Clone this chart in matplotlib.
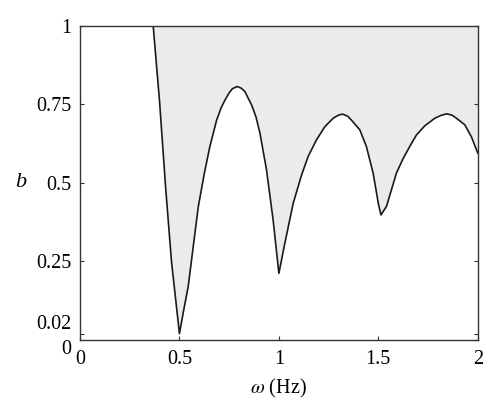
import numpy as np
import matplotlib.pyplot as plt

# boundary curve b(omega)
omega = [0.368, 0.40, 0.43, 0.46, 0.50, 0.52, 0.544, 0.57, 0.595, 0.625, 0.653,
         0.687, 0.71, 0.729, 0.75, 0.766, 0.79, 0.81, 0.829, 0.863, 0.885,
         0.905, 0.938, 0.971, 1.0, 1.03, 1.072, 1.114, 1.147, 1.189, 1.231,
         1.273, 1.30, 1.32, 1.345, 1.365, 1.407, 1.44, 1.474, 1.50, 1.513,
         1.541, 1.591, 1.625, 1.658, 1.692, 1.734, 1.784, 1.815, 1.843, 1.87,
         1.893, 1.935, 1.968, 2.0]
b = [1.0, 0.76, 0.49, 0.25, 0.02, 0.09, 0.17, 0.30, 0.425, 0.53, 0.616,
     0.70, 0.74, 0.764, 0.787, 0.80, 0.807, 0.802, 0.791, 0.748, 0.71,
     0.658, 0.541, 0.382, 0.212, 0.308, 0.435, 0.525, 0.584, 0.637, 0.679,
     0.706, 0.716, 0.719, 0.713, 0.70, 0.669, 0.616, 0.531, 0.435, 0.398,
     0.425, 0.531, 0.578, 0.616, 0.653, 0.682, 0.706, 0.715, 0.72, 0.716,
     0.706, 0.685, 0.647, 0.595]

xticks = [0, 0.5, 1, 1.5, 2]
xtick_labels = ['0', '0.5', '1', '1.5', '2']
yticks = [0, 0.02, 0.25, 0.5, 0.75, 1]
ytick_labels = ['0', '0.02', '0.25', '0.5', '0.75', '1']

plt.rcParams['font.family'] = ['Liberation Serif', 'DejaVu Serif']
plt.rcParams['mathtext.fontset'] = 'stix'

fig = plt.figure(figsize=(5, 4.15), dpi=100)
ax = fig.add_axes([0.16, 0.181, 0.7955, 0.7565])

ax.fill_between(omega, b, 1, color='#ebebeb', lw=0)
ax.plot(omega, b, color='#1a1a1a', lw=1.2)

ax.set_xlim(0, 2)
ax.set_ylim(0, 1)
ax.set_xticks(xticks)
ax.set_xticklabels(xtick_labels)
ax.set_yticks(yticks)
ax.set_yticklabels(ytick_labels)
ax.tick_params(axis='x', direction='in', length=3, pad=7, labelsize=14.5, color='#333333')
ax.tick_params(axis='y', direction='in', length=3, pad=6, labelsize=14.5, color='#333333',
               right=True)
# nudge the 0 and 0.02 labels apart like the original
ylabs = ax.get_yticklabels()
ylabs[0].set_verticalalignment('top')
ylabs[1].set_verticalalignment('bottom')

for s in ax.spines.values():
    s.set_color('#333333')
    s.set_linewidth(1.0)

ax.set_xlabel(r'$\omega$ (Hz)', fontsize=14.5, labelpad=6)
ax.set_ylabel('b', fontsize=16, style='italic', rotation=0, ha='center', va='center')
ax.yaxis.set_label_coords(-0.148, 0.5)

fig.savefig('out.png', dpi=100)
